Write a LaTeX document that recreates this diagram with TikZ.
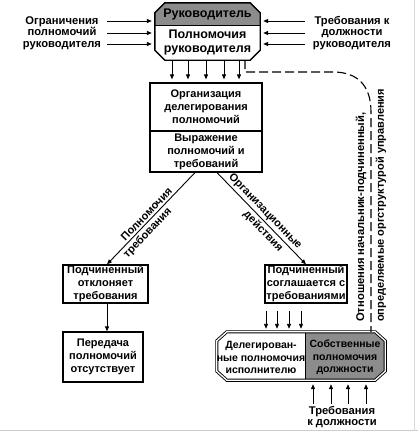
\documentclass[tikz,border=0pt]{standalone}
\usepackage{fontspec}
\setmainfont{Liberation Sans}
\usetikzlibrary{arrows.meta,calc}
\definecolor{hdr}{gray}{0.55}
\begin{document}
\begin{tikzpicture}[x=1pt,y=-1pt,
  txt/.style={font=\bfseries\fontsize{11.2}{11.6}\selectfont, align=center, inner sep=0pt},
  boxtxt/.style={font=\bfseries\fontsize{11}{13}\selectfont, align=center, inner sep=0pt},
  bigtxt/.style={font=\bfseries\fontsize{12.5}{13.5}\selectfont, align=center, inner sep=0pt},
  rect/.style={draw, line width=1.2pt, fill=white, inner sep=0pt},
  frame/.style={inner sep=0pt},
  arr/.style={line width=0.9pt, -{Triangle[length=5pt,width=4pt]}},
  rot/.style={inner sep=0pt, rotate=90, anchor=west},
  lbl/.style={font=\bfseries\fontsize{11}{11}\selectfont, inner sep=2pt, sloped},
  dashline/.style={line width=1.1pt, dash pattern=on 9pt off 4pt}
]
\useasboundingbox (0,0) rectangle (418,434);
\draw[gray!40, line width=1pt] (0,430.5) -- (418,430.5);
\draw[gray!30, line width=0.8pt] (414.5,0) -- (414.5,430.5);

% top octagon
\node[frame, minimum width=105pt, minimum height=57pt] (lead) at (207.5,31.5) {};
\fill[white] ([xshift=10pt]lead.north west) -- ([xshift=-10pt]lead.north east) -- ([yshift=-10pt]lead.north east) -- ([yshift=10pt]lead.south east) -- ([xshift=-10pt]lead.south east) -- ([xshift=10pt]lead.south west) -- ([yshift=10pt]lead.south west) -- ([yshift=-10pt]lead.north west) -- cycle;
\begin{scope}
  \clip ([xshift=10pt]lead.north west) -- ([xshift=-10pt]lead.north east) -- ([yshift=-10pt]lead.north east) -- ([yshift=10pt]lead.south east) -- ([xshift=-10pt]lead.south east) -- ([xshift=10pt]lead.south west) -- ([yshift=10pt]lead.south west) -- ([yshift=-10pt]lead.north west) -- cycle;
  \fill[hdr] (lead.north west) rectangle ($(lead.north east)+(0,22.5)$);
\end{scope}
\draw[line width=1.1pt] ($(lead.north west)+(0,22.5)$) -- ($(lead.north east)+(0,22.5)$);
\draw[line width=1.4pt] ([xshift=10pt]lead.north west) -- ([xshift=-10pt]lead.north east) -- ([yshift=-10pt]lead.north east) -- ([yshift=10pt]lead.south east) -- ([xshift=-10pt]lead.south east) -- ([xshift=10pt]lead.south west) -- ([yshift=10pt]lead.south west) -- ([yshift=-10pt]lead.north west) -- cycle;
\node[bigtxt] (leadhead) at (207.5,14.5) {Руководитель};
\node[bigtxt] (leadtext) at (207.5,42.5) {Полномочия\\руководителя};

% side texts
\node[txt] (lim) at (62,33) {Ограничения\\полномочий\\руководителя};
\node[txt] (req) at (352,33) {Требования к\\должности\\руководителя};
\foreach \y in {21,33,44} {
  \draw[arr] (107,\y) -- ([xshift=-3pt]lead.west |- 0,\y);
  \draw[arr] (305,\y) -- ([xshift=3pt]lead.east |- 0,\y);
}

% middle boxes
\node[rect, minimum width=112pt, minimum height=48pt] (org) at (206,107) {};
\node[boxtxt] at (org) {Организация\\делегирования\\полномочий};
\node[rect, minimum width=112pt, minimum height=41pt] (expr) at (206,151.5) {};
\node[boxtxt] at (expr) {Выражение\\полномочий и\\требований};

\foreach \x in {172,188,206,224,239}
  \draw[arr, shorten >=3pt] (\x,0 |- lead.south) -- (\x,0 |- org.north);

% lower boxes
\node[rect, minimum width=85pt, minimum height=38pt] (rej) at (105.5,284) {};
\node[boxtxt] at (rej) {Подчиненный\\отклоняет\\требования};
\node[rect, minimum width=80pt, minimum height=50pt] (pass) at (103,357) {};
\node[boxtxt] at (pass) {Передача\\полномочий\\отсутствует};
\node[rect, minimum width=82pt, minimum height=38pt] (agr) at (306,284) {};
\node[boxtxt] at (agr) {Подчиненный\\соглашается с\\требованиями};

\draw[arr] ($(expr.south)+(-11,0)$) -- node[lbl, pos=0.50, above] {Полномочия} node[lbl, pos=0.60, below] {требования} ([xshift=1.5pt]rej.north);
\draw[arr] ($(expr.south)+(11,0)$) -- node[lbl, pos=0.48, above] {Организационные} node[lbl, pos=0.58, below] {действия} (agr.north);
\draw[arr] (rej.south -| 107,0) -- (107,0 |- pass.north);

% bottom octagon
\node[frame, minimum width=168pt, minimum height=48pt] (exec) at (301,356) {};
\fill[white] ([xshift=10pt]exec.north west) -- ([xshift=-10pt]exec.north east) -- ([yshift=-9pt]exec.north east) -- ([yshift=9pt]exec.south east) -- ([xshift=-10pt]exec.south east) -- ([xshift=10pt]exec.south west) -- ([yshift=9pt]exec.south west) -- ([yshift=-9pt]exec.north west) -- cycle;
\begin{scope}
  \clip ([xshift=10pt]exec.north west) -- ([xshift=-10pt]exec.north east) -- ([yshift=-9pt]exec.north east) -- ([yshift=9pt]exec.south east) -- ([xshift=-10pt]exec.south east) -- ([xshift=10pt]exec.south west) -- ([yshift=9pt]exec.south west) -- ([yshift=-9pt]exec.north west) -- cycle;
  \fill[hdr] ($(exec.north east)+(-80,0)$) rectangle (exec.south east);
\end{scope}
\draw[line width=1.1pt] ($(exec.north east)+(-80,0)$) -- ($(exec.south east)+(-80,0)$);
\draw[line width=0.9pt, double=white, double distance=1.3pt] ([xshift=10pt]exec.north west) -- ([xshift=-10pt]exec.north east) -- ([yshift=-9pt]exec.north east) -- ([yshift=9pt]exec.south east) -- ([xshift=-10pt]exec.south east) -- ([xshift=10pt]exec.south west) -- ([yshift=9pt]exec.south west) -- ([yshift=-9pt]exec.north west) -- cycle;
\node[boxtxt, font=\bfseries\fontsize{10.5}{12.5}\selectfont] (deleg) at (261,357.5) {Делегирован-\\ные полномочия\\исполнителю};
\node[boxtxt, font=\bfseries\fontsize{10.5}{12.5}\selectfont] (own) at (345,357.5) {Собственные\\полномочия\\должности};

\foreach \x in {266,277,289,301}
  \draw[arr, shorten <=7pt, shorten >=3pt] (\x,0 |- agr.south) -- (\x,0 |- exec.north);

\node[txt] (jobreq) at (342,417) {Требования\\к должности};
\foreach \x in {313,331,348,366}
  \draw[arr, shorten <=2pt, shorten >=4pt] (\x,0 |- jobreq.north) -- (\x,0 |- exec.south);

% dashed relation line
\coordinate (d0) at ($(lead.south)+(37.5,0)$);
\coordinate (d1) at (245,72);
\coordinate (d2) at (333,72);
\coordinate (d3) at (371,112);
\draw[dashline] (d0) -- (d1) -- (d2) .. controls (358,72) and (371,86) .. (d3) -- (d3 |- exec.north);

\node[rot, font=\bfseries\fontsize{11.2}{12}\selectfont] (rel1) at (361,322) {Отношения начальник-подчиненный,};
\node[rot, font=\bfseries\fontsize{11}{12}\selectfont] (rel2) at (381,322) {определяемые оргструктурой управления};
\end{tikzpicture}
\end{document}
